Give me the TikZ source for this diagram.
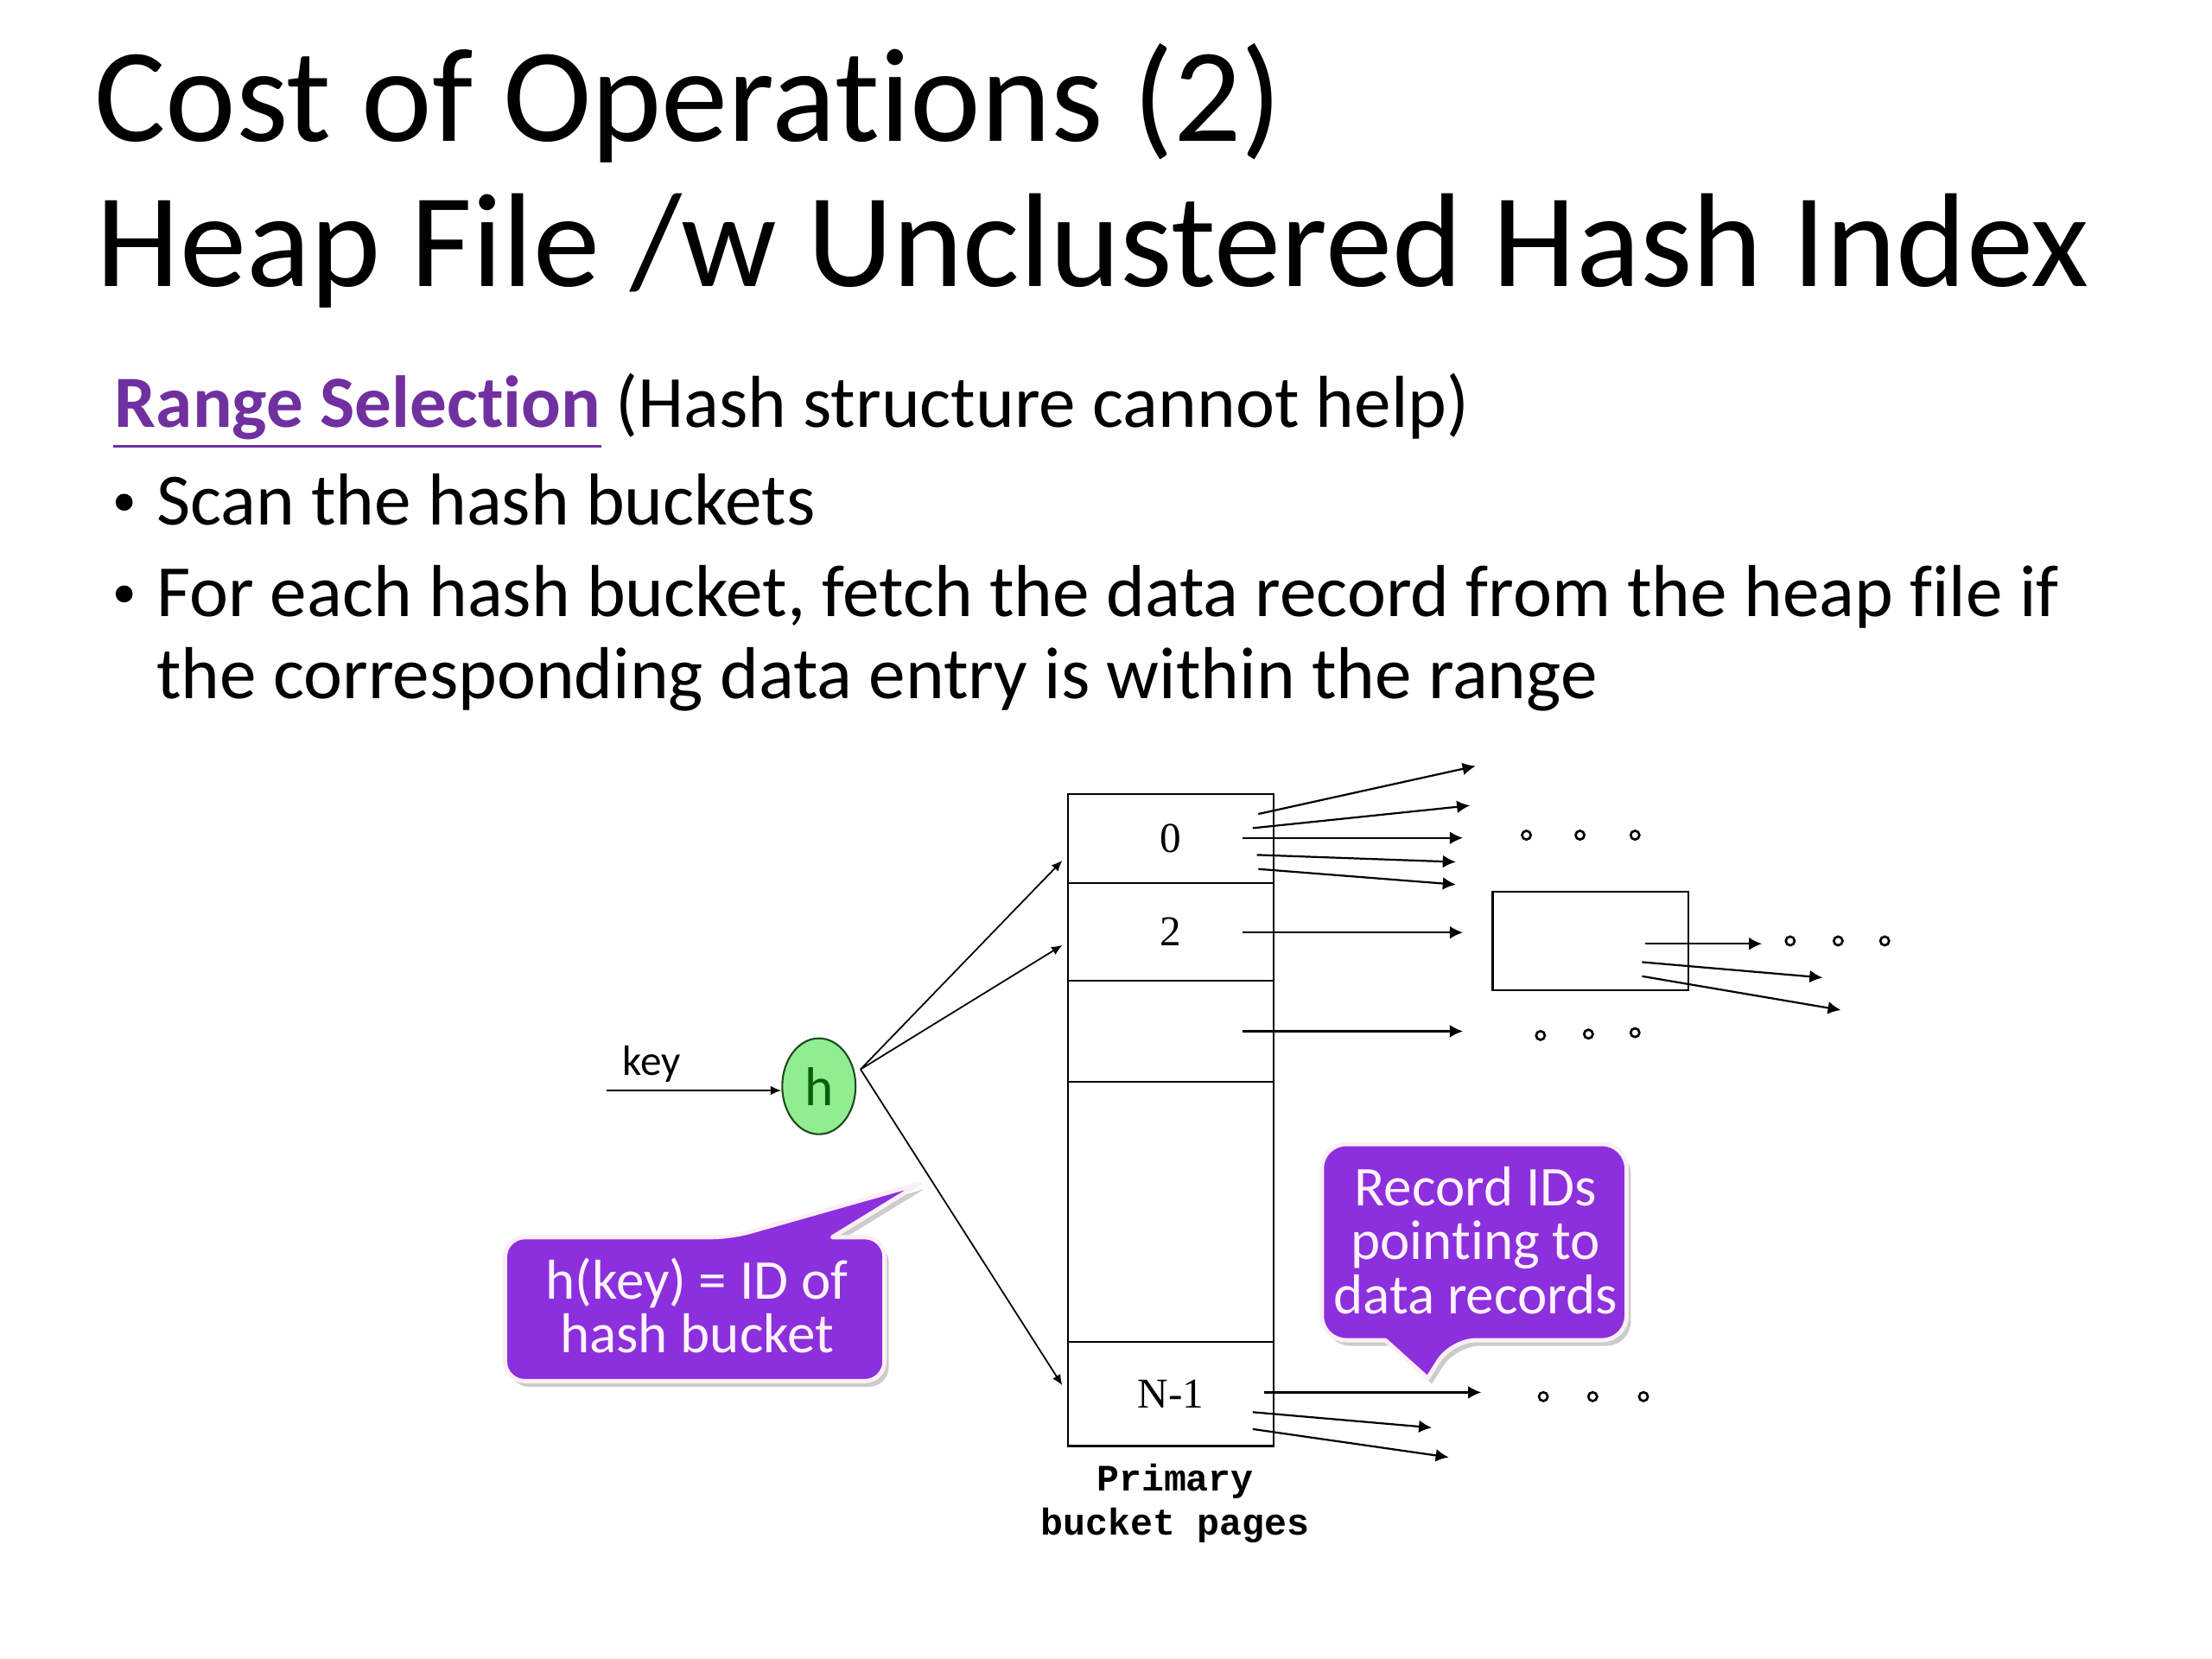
\documentclass[tikz,border=0pt]{standalone}
\usepackage{fontspec}
\setmainfont{Carlito}[Ligatures=NoCommon]
\newfontfamily\timesf{Liberation Serif}
\newfontfamily\courf{Liberation Mono}
\usetikzlibrary{arrows.meta,shapes.geometric,calc}
\definecolor{rsPurple}{HTML}{7030A0}
\definecolor{callPurple}{HTML}{8C2FDD}
\definecolor{callEdge}{HTML}{FBEFF5}
\definecolor{callText}{HTML}{FFF2FB}
\definecolor{hGreen}{HTML}{90EE90}
\definecolor{hEdge}{HTML}{1E4A1E}
\definecolor{hText}{HTML}{0B5E0B}
\tikzset{
  ttl/.style={anchor=base west, inner sep=0, font=\fontsize{44}{48}\selectfont},
  bodytext/.style={anchor=base west, inner sep=0, font=\fontsize{24.25}{28}\selectfont},
  bulletdot/.style={circle, fill=black, minimum size=5.6pt, inner sep=0},
  cell/.style={draw, line width=0.65pt, minimum width=67.82pt, inner sep=0, outer sep=0,
    font=\timesf\fontsize{14}{16}\selectfont},
  ptr/.style={line width=0.63pt, -{Latex[length=4.3pt,width=4.2pt]}},
  hptr/.style={line width=0.5pt, -{Latex[length=3.5pt,width=3pt]}},
  dotc/.style={circle, draw, line width=0.75pt, minimum size=2.9pt, inner sep=0},
  calloutshape/.style={fill=callPurple, draw=callEdge, line width=1.4pt, line join=round},
  calloutshadow/.style={fill=black!20},
  calltext/.style={anchor=base, inner sep=0, text=callText, font=\fontsize{18.5}{20}\selectfont},
  mono/.style={anchor=base, inner sep=0, font=\courf\bfseries\fontsize{12.3}{14}\selectfont},
}
\begin{document}
\begin{tikzpicture}[x=0.0163265cm,y=-0.0163265cm]
\useasboundingbox (0,0) rectangle (1568,1176);

% ---- title ----
\node[ttl] (t1) at (66.5,100) {Cost of Operations (2)};
\node[ttl] (t2) at (68,203) {Heap File /w Unclustered Hash Index};

% ---- body ----
\node[bodytext, text=rsPurple, font=\bfseries\fontsize{24.25}{28}\selectfont] (rs) at (81,303) {Range Selection};
\node[bodytext] (rs2) at ([xshift=4.5pt]rs.base east) {(Hash structure cannot help)};
\draw[rsPurple, line width=0.8pt] ($(rs.base west)+(-1,13.5)$) -- ($(rs.base east)+(0,13.5)$);
\node[bulletdot] (b1d) at (88,356) {};
\node[bodytext] (b1) at (110.5,372) {Scan the hash buckets};
\node[bulletdot] (b2d) at (88,421) {};
\node[bodytext] (b2) at (110.5,437) {For each hash bucket, fetch the data record from the heap file if};
\node[bodytext] (b2b) at (110.5,495) {the corresponding data entry is within the range};

% ---- bucket pages ----
\node[cell, minimum height=29.27pt] (c0) at (830,594.5) {0};
\node[cell, minimum height=32.05pt] (c2) at (830,660.5) {2};
\node[cell, minimum height=33.45pt] (c3) at (830,731) {};
\node[cell, minimum height=85.47pt] (c4) at (830,859) {};
\node[cell, minimum height=34.38pt] (cN) at (830,988) {N-1};
\node[mono] (p1) at (833,1057) {Primary};
\node[mono] (p2) at (833,1088) {bucket pages};

% overflow page
\node[draw, line width=0.65pt, minimum width=64.57pt, minimum height=32.52pt, inner sep=0] (ov) at (1127.5,667) {};

% ---- hash function ----
\node[ellipse, draw=hEdge, line width=0.6pt, fill=hGreen, minimum width=24.16pt, minimum height=31.59pt,
      inner sep=0, text=hText, font=\fontsize{18}{20}\selectfont] (h) at (580.5,770) {h};
\coordinate (k0) at (430,773);
\draw[hptr] (k0) -- (k0 -| h.west);
\node[anchor=base, inner sep=0, font=\fontsize{14}{16}\selectfont] (key) at (462,762) {key};

\coordinate (hs) at (610,758);
\coordinate (he0) at (753,610);
\coordinate (he2) at (753,670);
\coordinate (heN) at (753,982);
\draw[hptr] (hs) -- (he0);
\draw[hptr] (hs) -- (he2);
\draw[hptr] (hs) -- (heN);

% ---- record id arrows ----
\foreach [count=\i] \sx/\sy/\ex/\ey in {
  892/577/1046/543, 888/587/1042/571, 881/594/1037/594, 891/606/1032/611, 892/616/1032/627,
  881/661/1037/661, 881/731/1037/731,
  1166/669/1249/669, 1164/682/1292/693, 1164/692/1305/716,
  896/987/1050/987, 888/1001/1015/1012, 888/1013/1027/1033} {
  \coordinate (s\i) at (\sx,\sy);
  \coordinate (e\i) at (\ex,\ey);
  \draw[ptr] (s\i) -- (e\i);
}

% ---- ellipsis dots ----
\foreach [count=\i] \x/\y in {
  1082/592, 1120/592, 1159/592,
  1269/667, 1303/667, 1336/667,
  1092/734, 1126/733, 1159/732,
  1094/990, 1129/990, 1165/990} {
  \node[dotc] (d\i) at (\x,\y) {};
}

% ---- callout 1 ----
\path[calloutshadow, shift={(3,4)}] (358,920) [rounded corners=6.5pt] -- (358,877) -- (518,877)
   [sharp corners] -- (652,839) -- (590,877) [rounded corners=6.5pt] -- (627,877) -- (627,979) -- (358,979) -- cycle;
\path[calloutshape] (358,920) [rounded corners=6.5pt] -- (358,877) -- (518,877)
   [sharp corners] -- (652,839) -- (590,877) [rounded corners=6.5pt] -- (627,877) -- (627,979) -- (358,979) -- cycle;
\node[calltext] (c1a) at (494,921) {h(key) = ID of};
\node[calltext] (c1b) at (494,959) {hash bucket};

% ---- callout 2 ----
\path[calloutshadow, shift={(3,4)}] (937,880) [rounded corners=8pt] -- (937,811) -- (1153,811) -- (1153,950) -- (1029,950)
   [sharp corners] -- (1012,977) -- (982,950) [rounded corners=8pt] -- (937,950) -- cycle;
\path[calloutshape] (937,880) [rounded corners=8pt] -- (937,811) -- (1153,811) -- (1153,950) -- (1029,950)
   [sharp corners] -- (1012,977) -- (982,950) [rounded corners=8pt] -- (937,950) -- cycle;
\node[calltext] (c2a) at (1046,855) {Record IDs};
\node[calltext] (c2b) at (1046,893) {pointing to};
\node[calltext] (c2c) at (1046,931) {data records};
\end{tikzpicture}
\end{document}
